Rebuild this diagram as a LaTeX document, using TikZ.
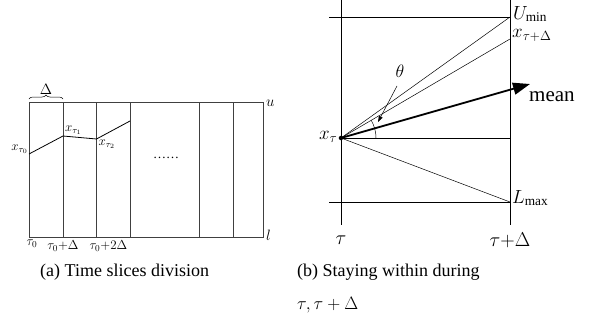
\RequirePackage{fix-cm}
\documentclass[tikz,border=0pt]{standalone}
\usepackage{amsmath,amssymb}
\usepackage{fontspec}
\setmainfont{Liberation Serif}
\usepackage{tikz}
\usetikzlibrary{arrows.meta,positioning,decorations.pathreplacing}

\newcommand{\fsz}[1]{\fontsize{#1}{#1}\selectfont}

\begin{document}
\begin{tikzpicture}[
    x=1pt, y=-1pt,
    grid/.style={draw=black!75, line width=0.8pt},
    track/.style={line width=0.8pt},
    thin line/.style={line width=0.5pt},
    lbl/.style={font=\fsz{13pt}, inner sep=1pt},
    blbl/.style={font=\fsz{19pt}, inner sep=1pt},
    captxt/.style={font=\fsz{18pt}, inner sep=0pt, anchor=west}
]
    \useasboundingbox (0,0) rectangle (592,324);

    % (a) time slices
    \coordinate (tl) at (29,102);
    \coordinate (br) at (263,237);
    \draw[grid] (tl) rectangle (br);
    \foreach \xx/\nm in {63/s1, 96.5/s2, 130/s3, 199.5/s4, 233/s5} {
        \coordinate (\nm top) at (\xx,102);
        \coordinate (\nm bot) at (\xx,237);
        \draw[grid] (\nm top) -- (\nm bot);
    }
    \draw[decorate, decoration={brace, amplitude=4pt}, thin line] (29,99) -- (63,99)
        node[midway, above=3pt, font=\fsz{15pt}, inner sep=1pt] (delta) {$\Delta$};

    \coordinate (p0) at (29,154);
    \coordinate (p1) at (63,136);
    \coordinate (p2) at (96.5,139);
    \coordinate (p3) at (130,121);
    \draw[track] (p0) -- (p1) -- (p2) -- (p3);

    \node[lbl, left=0pt of p0, yshift=5pt] (x0) {$x_{\tau_0}$};
    \node[lbl, above right=0pt and 1pt of p1] (x1) {$x_{\tau_1}$};
    \node[lbl, below right=0pt and 1pt of p2] (x2) {$x_{\tau_2}$};
    \node[lbl] (dots) at (166,158) {\ldots\ldots};
    \node[lbl, font=\fsz{15pt}, right=2pt of br |- tl, yshift=-1pt] (u) {$u$};
    \node[lbl, font=\fsz{15pt}, right=2pt of br, yshift=2pt] (l) {$l$};
    \node[lbl, below=2pt of tl |- br, xshift=3pt] (t0) {$\tau_0$};
    \node[lbl, below=2pt of s1bot] (t1) {$\tau_0{+}\Delta$};
    \node[lbl, below=2pt of s2bot, xshift=12pt] (t2) {$\tau_0{+}2\Delta$};

    % (b) staying within
    \coordinate (Lt) at (341,0);
    \coordinate (Lb) at (341,225);
    \coordinate (Rt) at (510,0);
    \coordinate (Rb) at (510,225);
    \draw[thin line] (Lt) -- (Lb);
    \draw[thin line] (Rt) -- (Rb);
    \coordinate (umin) at (510,17);
    \coordinate (lmax) at (510,202);
    \coordinate (xend) at (510,39);
    \coordinate (mid) at (510,138);
    \draw[thin line] (329,17) -- (umin);
    \draw[thin line] (329,202) -- (lmax);

    \node[circle, fill, inner sep=1.6pt] (xt) at (341,138) {};
    \draw[thin line] (xt.center) -- (mid);
    \draw[thin line] (xt.center) -- (umin);
    \draw[thin line] (xt.center) -- (xend);
    \draw[thin line] (xt.center) -- (lmax);
    \coordinate (mtip) at (530,84);
    \draw[line width=1.8pt, -{Triangle[length=17pt, width=12pt]}] (xt.center) -- (mtip);
    \draw[thin line] ([shift={(0:35)}]xt.center) arc[start angle=0, end angle=-30.4, radius=35];

    \node[blbl, font=\fsz{18pt}] (theta) at (400,71) {$\theta$};
    \draw[thin line, -{Triangle[length=6pt, width=4pt]}] (397,86) -- (378,122);

    \node[blbl, left=0pt of xt, yshift=1pt] (xtl) {$x_{\tau}$};
    \node[blbl, right=2pt of umin, yshift=3pt] (ul) {$U_{\min}$};
    \node[blbl, right=1pt of xend, yshift=4pt] (xl) {$x_{\tau+\Delta}$};
    \node[blbl, anchor=west, font=\fsz{21pt}] (mean) at (528,97) {mean};
    \node[blbl, right=1pt of lmax, yshift=4pt] (ll) {$L_{\max}$};
    \node[blbl, font=\fsz{20pt}] (tau) at (341,240) {$\tau$};
    \node[blbl, font=\fsz{20pt}] (taud) at (510,240) {$\tau{+}\Delta$};

    % captions
    \node[captxt] (capa) at (40,272) {(a) Time slices division};
    \node[captxt] (capb) at (297,272) {(b) Staying within during};
    \node[captxt, below=17pt of capb.south west, anchor=north west] (capb2) {$\tau, \tau+\Delta$};
\end{tikzpicture}
\end{document}
